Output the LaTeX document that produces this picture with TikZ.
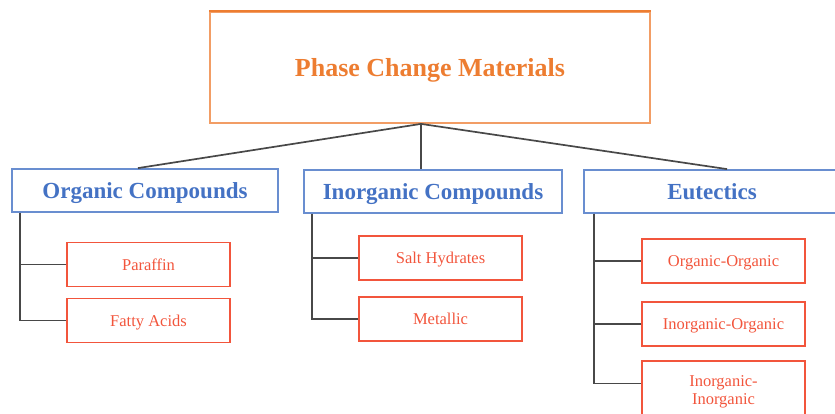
\documentclass[tikz,border=0pt]{standalone}
\usepackage{fontspec}
\setmainfont{Liberation Serif}

\definecolor{pcmorange}{HTML}{ED7D31}
\definecolor{pcmblue}{HTML}{4472C4}
\definecolor{pcmred}{HTML}{F2553C}
\definecolor{linkgray}{HTML}{484848}

\begin{document}
\begin{tikzpicture}[x=1pt, y=-1pt,
  every node/.style={rectangle, inner sep=0pt, align=center, text depth=0pt},
  mainbox/.style={draw=pcmorange!75, line width=1.8pt, text=pcmorange,
    font=\bfseries\fontsize{26}{30}\selectfont,
    minimum width=440pt, minimum height=111pt},
  groupbox/.style={draw=pcmblue!80, line width=1.8pt, text=pcmblue,
    font=\bfseries\fontsize{23}{27}\selectfont, minimum height=43pt},
  leafbox/.style={draw=pcmred, line width=1.8pt, text=pcmred,
    font=\fontsize{16.5}{18}\selectfont,
    minimum width=163pt, minimum height=44pt},
  link/.style={draw=linkgray, line width=1.7pt}]
\useasboundingbox (0,0) rectangle (835,414);
\clip (0,0) rectangle (835,414);

% root
\node[mainbox] (pcm) at (430,67.5) {Phase Change Materials};
\draw[pcmorange, line width=1.8pt] (pcm.north west) -- (pcm.north east);

% three families
\node[groupbox, minimum width=266pt] (org)   at (145,190.5) {Organic Compounds};
\node[groupbox, minimum width=258pt] (inorg) at (433,191.5) {Inorganic Compounds};
\node[groupbox, minimum width=256pt] (eut)   at (712,191.5) {Eutectics};

% members of each family
\node[leafbox] (paraffin) at (148.5,264.5) {Paraffin};
\node[leafbox] (fatty)    at (148.5,320.5) {Fatty Acids};
\node[leafbox] (salt)     at (440.5,258)   {Salt Hydrates};
\node[leafbox] (metal)    at (440.5,319)   {Metallic};
\node[leafbox] (oo)       at (723.5,261)   {Organic-Organic};
\node[leafbox] (io)       at (723.5,324)   {Inorganic-Organic};
\node[leafbox, minimum height=59pt] (ii) at (723.5,390.5) {Inorganic-\\Inorganic};

% root to families
\coordinate (hub) at ([xshift=-9pt]pcm.south);
\draw[link] (hub) -- ([xshift=-7pt]org.north);
\draw[link] (hub) -- ([xshift=-12pt]inorg.north);
\draw[link] (hub) -- ([xshift=15pt]eut.north);

% families to members
\draw[link] ([xshift=9pt]org.south west) |- (paraffin.west);
\draw[link] ([xshift=9pt]org.south west) |- (fatty.west);
\draw[link] ([xshift=9pt]inorg.south west) |- (salt.west);
\draw[link] ([xshift=9pt]inorg.south west) |- (metal.west);
\draw[link] ([xshift=11pt]eut.south west) |- (oo.west);
\draw[link] ([xshift=11pt]eut.south west) |- (io.west);
\draw[link] ([xshift=11pt]eut.south west) |- ([yshift=7pt]ii.west);
\end{tikzpicture}
\end{document}
